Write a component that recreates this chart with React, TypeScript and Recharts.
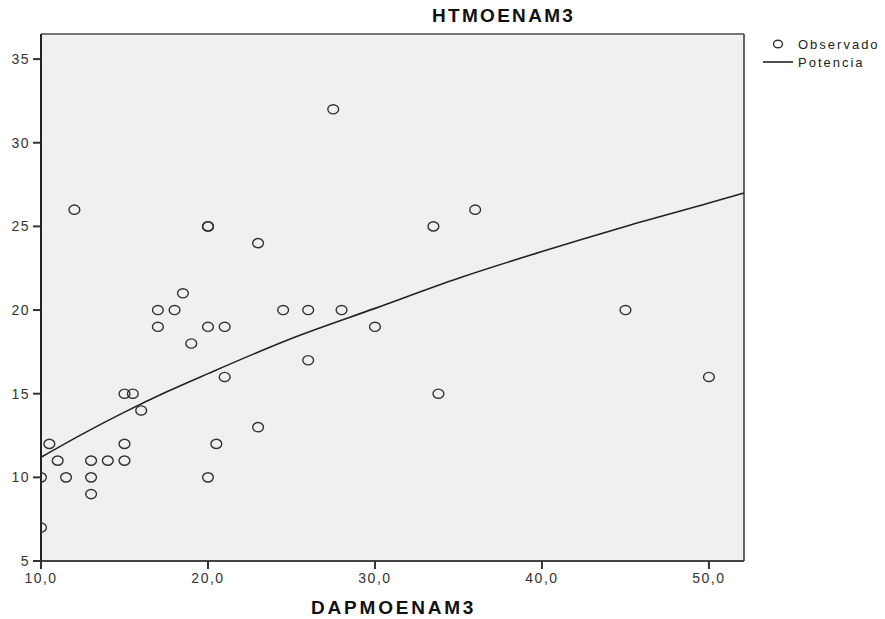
import React from 'react';
import {
  ComposedChart,
  Scatter,
  Line,
  XAxis,
  YAxis,
  CartesianGrid,
  ReferenceLine,
} from 'recharts';

// observed values (DAPMOENAM3, HTMOENAM3)
const dapObs = [
  10, 10, 10.5, 11, 11.5, 12, 13, 13, 13, 14, 15, 15, 15, 15.5, 16, 17, 17, 18, 18.5, 19,
  20, 20, 20, 20, 20.5, 21, 21, 23, 23, 24.5, 26, 26, 27.5, 28, 30, 33.5, 33.8, 36, 45, 50,
];
const htObs = [
  7, 10, 12, 11, 10, 26, 11, 10, 9, 11, 12, 11, 15, 15, 14, 20, 19, 20, 21, 18,
  25, 25, 19, 10, 12, 19, 16, 24, 13, 20, 20, 17, 32, 20, 19, 25, 15, 26, 20, 16,
];

// fitted power curve
const dapFit = [10, 12.5, 15, 17.5, 20, 25, 30, 35, 40, 45, 50, 52.1];
const htFit = [11.2, 12.6, 13.9, 15.1, 16.2, 18.3, 20.1, 21.9, 23.5, 25.0, 26.4, 27.0];

const xTicks = [10, 20, 30, 40, 50];
const yTicks = [5, 10, 15, 20, 25, 30, 35];

const observed = dapObs.map((x, i) => ({ x, y: htObs[i] }));
const fitted = dapFit.map((x, i) => ({ x, y: htFit[i] }));

const FONT = '"Liberation Sans", Arial, sans-serif';

const Ring = (props: any) => {
  const { cx, cy } = props;
  return <ellipse cx={cx} cy={cy} rx={5.4} ry={4.6} fill="none" stroke="#333" strokeWidth={1.4} />;
};

const App: React.FC = () => {
  return (
    <div style={{ position: 'absolute', left: 0, top: 0, width: 885, height: 619, fontFamily: FONT, background: '#fff' }}>
      <ComposedChart
        width={885}
        height={619}
        margin={{ top: 34, right: 141, bottom: 28, left: 0 }}
      >
        <CartesianGrid fill="#f0f0f0" horizontal={false} vertical={false} />
        <XAxis
          type="number"
          dataKey="x"
          domain={[10, 52.1]}
          ticks={xTicks}
          allowDataOverflow
          height={30}
          tickSize={8}
          tickMargin={4}
          tickFormatter={(v: number) => v.toFixed(1).replace('.', ',')}
          tick={{ fill: '#333', fontSize: 14, fontFamily: FONT, letterSpacing: 1.5 }}
          tickLine={{ stroke: '#333', strokeWidth: 2 }}
          axisLine={{ stroke: '#444', strokeWidth: 2 }}
        />
        <YAxis
          type="number"
          dataKey="y"
          domain={[5, 36.5]}
          ticks={yTicks}
          allowDataOverflow
          width={41}
          tickSize={8}
          tickMargin={3}
          tick={{ fill: '#333', fontSize: 14, fontFamily: FONT, letterSpacing: 1.5 }}
          tickLine={{ stroke: '#333', strokeWidth: 2 }}
          axisLine={{ stroke: '#222', strokeWidth: 2 }}
        />
        <ReferenceLine y={36.5} stroke="#777" strokeWidth={2} />
        <ReferenceLine x={52.1} stroke="#666" strokeWidth={2} />
        <Line
          data={fitted}
          dataKey="y"
          type="monotone"
          stroke="#222"
          strokeWidth={1.6}
          dot={false}
          isAnimationActive={false}
        />
        <Scatter data={observed} dataKey="y" shape={<Ring />} isAnimationActive={false} />
      </ComposedChart>

      <div style={{ position: 'absolute', left: 432, top: 4, fontSize: 19, fontWeight: 'bold', letterSpacing: 2.3, color: '#111', lineHeight: '24px' }}>
        HTMOENAM3
      </div>
      <div style={{ position: 'absolute', left: 311, top: 597, fontSize: 19, fontWeight: 'bold', letterSpacing: 2.8, color: '#111', lineHeight: '22px' }}>
        DAPMOENAM3
      </div>

      <svg style={{ position: 'absolute', left: 760, top: 36 }} width={125} height={40}>
        <ellipse cx={18} cy={8} rx={4.5} ry={3.8} fill="none" stroke="#333" strokeWidth={1.4} />
        <line x1={3} y1={26} x2={33} y2={26} stroke="#222" strokeWidth={1.6} />
        <text x={38} y={13} fontSize={13} fill="#222" fontFamily={FONT} letterSpacing={2}>Observado</text>
        <text x={38} y={31} fontSize={13} fill="#222" fontFamily={FONT} letterSpacing={2}>Potencia</text>
      </svg>
    </div>
  );
};

export default App;
